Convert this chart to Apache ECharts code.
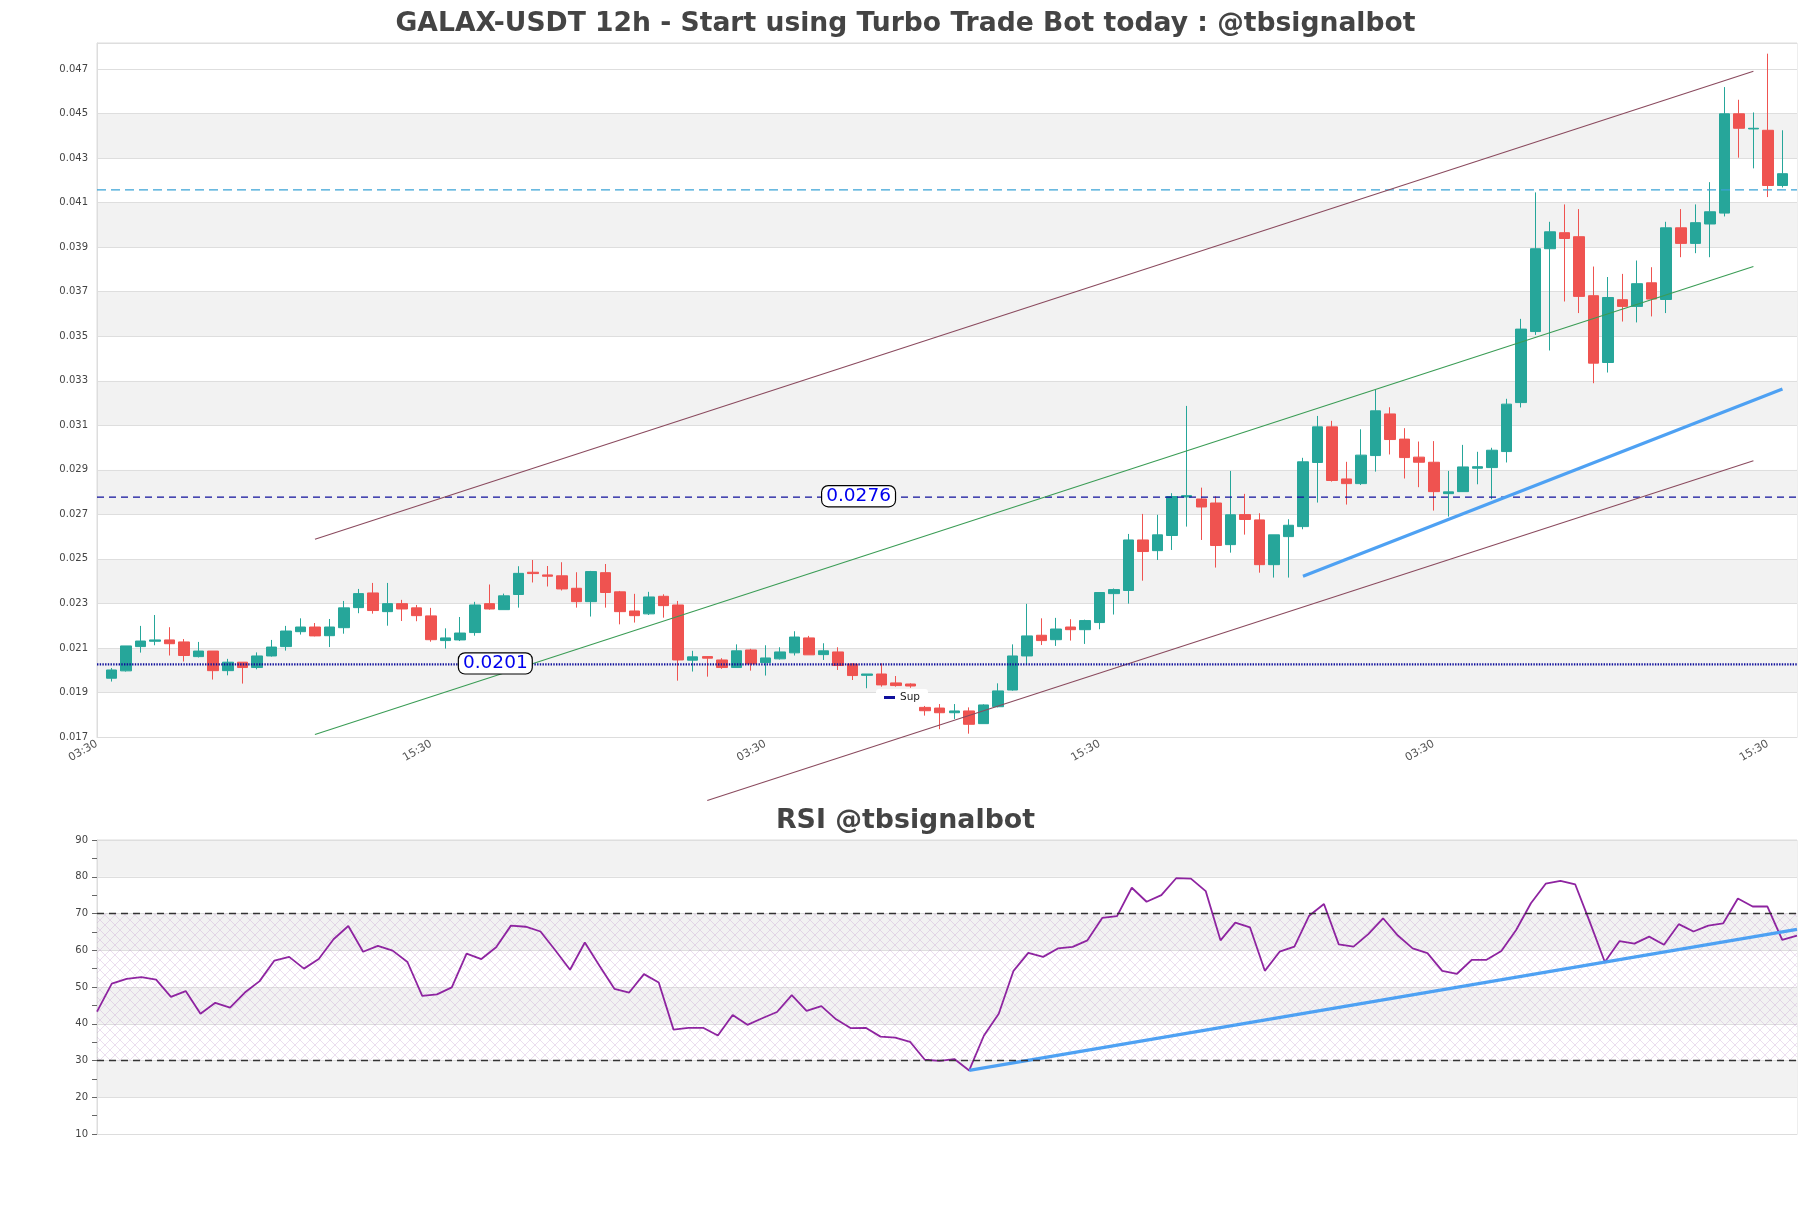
<!DOCTYPE html>
<html><head><meta charset="utf-8">
<script src="https://cdn.jsdelivr.net/npm/echarts@6/dist/echarts.min.js"></script>
<style>html,body{margin:0;padding:0;background:#fff}#c{width:1811px;height:1208px}</style>
</head><body><div id="c"></div>
<script>
// ---- DATA ----
const opens = [0.01964,0.01997,0.02106,0.02130,0.02136,0.02127,0.02061,0.02086,0.01998,0.02036,0.02012,0.02064,0.02106,0.02173,0.02194,0.02155,0.02191,0.02281,0.02347,0.02263,0.02299,0.02280,0.02244,0.02133,0.02136,0.02169,0.02299,0.02272,0.02340,0.02440,0.02428,0.02424,0.02368,0.02308,0.02438,0.02352,0.02266,0.02253,0.02332,0.02293,0.02045,0.02061,0.02046,0.02012,0.02091,0.02034,0.02051,0.02078,0.02145,0.02070,0.02082,0.02028,0.01977,0.01983,0.01943,0.01938,0.01833,0.01830,0.01809,0.01817,0.01760,0.01836,0.01911,0.02064,0.02157,0.02137,0.02194,0.02182,0.02214,0.02344,0.02358,0.02585,0.02537,0.02605,0.02778,0.02769,0.02751,0.02564,0.02699,0.02675,0.02474,0.02600,0.02645,0.02933,0.03093,0.02859,0.02838,0.02964,0.03151,0.03038,0.02957,0.02934,0.02793,0.02802,0.02907,0.02910,0.02982,0.03202,0.03521,0.03893,0.03965,0.03947,0.03682,0.03382,0.03664,0.03634,0.03740,0.03665,0.03987,0.03917,0.04004,0.04053,0.04499,0.04431,0.04425,0.04177];
const highs = [0.02010,0.02109,0.02199,0.02248,0.02193,0.02140,0.02127,0.02086,0.02051,0.02036,0.02080,0.02136,0.02199,0.02233,0.02212,0.02230,0.02311,0.02365,0.02392,0.02392,0.02316,0.02293,0.02280,0.02188,0.02239,0.02307,0.02385,0.02344,0.02467,0.02495,0.02468,0.02485,0.02440,0.02446,0.02477,0.02356,0.02343,0.02352,0.02341,0.02311,0.02087,0.02062,0.02054,0.02116,0.02096,0.02112,0.02103,0.02175,0.02154,0.02121,0.02103,0.02031,0.01983,0.02031,0.01974,0.01941,0.01846,0.01848,0.01848,0.01833,0.01847,0.01941,0.02116,0.02298,0.02233,0.02235,0.02229,0.02227,0.02349,0.02367,0.02612,0.02702,0.02698,0.02795,0.03187,0.02820,0.02781,0.02895,0.02792,0.02705,0.02608,0.02678,0.02954,0.03142,0.03120,0.02936,0.03082,0.03259,0.03181,0.03087,0.03027,0.03029,0.02895,0.03012,0.02981,0.02999,0.03219,0.03578,0.04146,0.04014,0.04092,0.04071,0.03813,0.03766,0.03780,0.03840,0.03810,0.04014,0.04071,0.04092,0.04192,0.04619,0.04562,0.04505,0.04769,0.04425];
const lows = [0.01949,0.01994,0.02079,0.02112,0.02066,0.02039,0.02057,0.01958,0.01977,0.01940,0.02004,0.02061,0.02088,0.02160,0.02152,0.02104,0.02164,0.02256,0.02254,0.02200,0.02221,0.02220,0.02128,0.02097,0.02131,0.02155,0.02272,0.02272,0.02281,0.02394,0.02376,0.02358,0.02281,0.02241,0.02281,0.02206,0.02214,0.02248,0.02236,0.01953,0.01994,0.01971,0.02006,0.02012,0.01998,0.01976,0.02048,0.02066,0.02069,0.02046,0.02001,0.01956,0.01919,0.01926,0.01926,0.01921,0.01796,0.01735,0.01781,0.01715,0.01760,0.01833,0.01908,0.02024,0.02113,0.02109,0.02133,0.02118,0.02184,0.02250,0.02299,0.02402,0.02495,0.02540,0.02645,0.02585,0.02461,0.02528,0.02609,0.02438,0.02416,0.02416,0.02633,0.02753,0.02847,0.02744,0.02832,0.02892,0.02969,0.02861,0.02822,0.02717,0.02690,0.02801,0.02835,0.02768,0.02933,0.03180,0.03506,0.03436,0.03656,0.03604,0.03289,0.03337,0.03566,0.03562,0.03589,0.03604,0.03855,0.03873,0.03855,0.04038,0.04302,0.04254,0.04125,0.04168];
const closes = [0.02001,0.02109,0.02131,0.02136,0.02119,0.02066,0.02086,0.01998,0.02036,0.02012,0.02064,0.02104,0.02176,0.02194,0.02154,0.02194,0.02280,0.02344,0.02268,0.02299,0.02275,0.02245,0.02137,0.02145,0.02167,0.02293,0.02275,0.02334,0.02435,0.02434,0.02422,0.02365,0.02308,0.02443,0.02349,0.02263,0.02245,0.02329,0.02290,0.02046,0.02060,0.02054,0.02012,0.02087,0.02028,0.02055,0.02082,0.02149,0.02069,0.02087,0.02021,0.01976,0.01983,0.01934,0.01931,0.01929,0.01818,0.01809,0.01817,0.01757,0.01844,0.01907,0.02064,0.02154,0.02133,0.02185,0.02182,0.02223,0.02349,0.02362,0.02585,0.02533,0.02608,0.02780,0.02784,0.02733,0.02560,0.02698,0.02677,0.02474,0.02608,0.02651,0.02936,0.03093,0.02852,0.02838,0.02966,0.03165,0.03036,0.02955,0.02934,0.02802,0.02801,0.02913,0.02914,0.02988,0.03195,0.03532,0.03893,0.03969,0.03939,0.03679,0.03379,0.03674,0.03634,0.03736,0.03667,0.03987,0.03917,0.04010,0.04059,0.04499,0.04434,0.04434,0.04177,0.04230];
const rsiValues = [43.3,50.9,52.2,52.7,52.0,47.3,48.9,42.7,45.7,44.4,48.5,51.6,57.2,58.2,55.0,57.6,63.0,66.6,59.6,61.2,59.9,56.8,47.6,48.0,49.9,59.1,57.6,60.8,66.7,66.4,65.1,60.0,54.7,62.1,55.7,49.5,48.5,53.5,51.2,38.4,38.9,38.9,36.8,42.4,39.7,41.5,43.2,47.8,43.5,44.8,41.2,38.8,38.9,36.5,36.2,35.1,30.2,29.9,30.4,27.3,36.8,42.7,54.4,59.3,58.2,60.5,60.9,62.7,68.8,69.3,77.0,73.2,75.0,79.6,79.5,76.1,62.7,67.5,66.2,54.4,59.6,61.0,69.4,72.6,61.6,61.0,64.4,68.7,64.0,60.5,59.2,54.4,53.6,57.4,57.4,59.8,65.5,72.8,78.1,78.9,77.9,67.5,56.8,62.5,61.8,63.7,61.5,67.1,65.1,66.7,67.3,74.1,71.9,71.9,62.8,64.0];
const timeLabels = ['03:30', '15:30'];
const priceMin = 0.017, priceMax = 0.04817, priceStep = 0.002;
const rsiMin = 10, rsiMax = 90, rsiStep = 10;
const supLevel = 0.02026, resLevel = 0.02777, topLevel = 0.04157;
const supLabel = '0.0201', resLabel = '0.0276';
const supLabelAt = 27, resLabelAt = 52;
const channelUpper = [[15, 0.02588], [114, 0.04690]];
const channelMid = [[15, 0.01711], [114, 0.03813]];
const channelLower = [[42, 0.01415], [114, 0.02941]];
const priceTrend = [[83, 0.02422], [116, 0.03263]];
const rsiTrend = [[59, 27.3], [115, 65.7]];
const rsiZone = [30, 70];

// ---- BUILD ----
const nPad = opens.length + 2;             // one empty slot on each side
const categories = Array.from({length: nPad}, (_, i) => timeLabels[i % 2]);
const rsiCats = rsiValues.map((_, i) => String(i));
const candleRows = opens.map((o, i) => [i + 1, o, closes[i], lows[i], highs[i]]);
const fullSpan = v => [[0, v], [nPad - 1, v]];

const hatch = document.createElement('canvas');
hatch.width = 10; hatch.height = 10;
(function(){const g = hatch.getContext('2d');
  g.strokeStyle = 'rgba(190,150,205,0.45)'; g.lineWidth = 0.7;
  g.beginPath(); g.moveTo(0,0); g.lineTo(10,10); g.moveTo(10,0); g.lineTo(0,10); g.stroke();})();

const GRAY = '#f2f2f2', WHITE = '#ffffff';
const mainBands = Array.from({length: 16}, (_, i) => (i % 2 === 1 && i < 15) ? GRAY : WHITE);
const FONT = 'DejaVu Sans';

const chart = echarts.init(document.getElementById('c'), null, {renderer: 'canvas'});
const line = (name, data, lineStyle, z) => ({
  name, type: 'line', data, xAxisIndex: 0, yAxisIndex: 0, symbol: 'none', clip: false, silent: true,
  lineStyle, color: lineStyle.color, z: z || 3
});
chart.setOption({
  animation: false,
  backgroundColor: '#fff',
  textStyle: {fontFamily: FONT},
  title: [
    {text: 'GALAX-USDT 12h - Start using Turbo Trade Bot today : @tbsignalbot', left: 'center', top: 6,
     textStyle: {fontSize: 26.6, fontWeight: 'bold', color: '#444', fontFamily: FONT}},
    {text: 'RSI @tbsignalbot', left: 'center', top: 803,
     textStyle: {fontSize: 26.8, fontWeight: 'bold', color: '#444', fontFamily: FONT}}
  ],
  legend: {data: ['Sup'], left: 876, top: 689, icon: 'rect', itemWidth: 11, itemHeight: 3,
    backgroundColor: 'rgba(255,255,255,0.95)', borderRadius: 3, padding: [3, 8],
    textStyle: {fontSize: 10.5, color: '#222', fontFamily: FONT}, z: 10},
  grid: [
    {left: 97, top: 43, width: 1700, height: 694, show: true, borderColor: '#dddddd', borderWidth: 1, backgroundColor: 'transparent'},
    {left: 97, top: 840, width: 1700, height: 294, show: true, borderColor: '#dddddd', borderWidth: 1, backgroundColor: 'transparent'}
  ],
  xAxis: [
    {type: 'category', gridIndex: 0, data: categories, boundaryGap: false,
     axisLine: {lineStyle: {color: '#dddddd'}}, axisTick: {show: false}, splitLine: {show: false},
     axisLabel: {interval: 22, rotate: 30, fontSize: 11, color: '#555', margin: 6, fontFamily: FONT}},
    {type: 'category', gridIndex: 1, data: rsiCats, boundaryGap: false,
     axisLine: {lineStyle: {color: '#dddddd'}}, axisTick: {show: false}, axisLabel: {show: false}, splitLine: {show: false}}
  ],
  yAxis: [
    {type: 'value', gridIndex: 0, min: priceMin, max: priceMax, interval: priceStep, scale: true,
     axisLine: {show: true, lineStyle: {color: '#dddddd'}}, axisTick: {show: false},
     axisLabel: {showMaxLabel: false, fontSize: 10, color: '#444', margin: 9, fontFamily: FONT, formatter: v => v.toFixed(3)},
     splitLine: {lineStyle: {color: '#dedede', width: 1}},
     splitArea: {show: true, areaStyle: {color: mainBands}}},
    {type: 'value', gridIndex: 1, min: rsiMin, max: rsiMax, interval: rsiStep,
     axisLine: {show: true, lineStyle: {color: '#dddddd'}},
     axisTick: {show: true, length: 5, lineStyle: {color: '#666'}},
     minorTick: {show: true, splitNumber: 2, length: 5, lineStyle: {color: '#666'}},
     axisLabel: {fontSize: 10, color: '#444', margin: 9, fontFamily: FONT},
     splitLine: {lineStyle: {color: '#dedede', width: 1}},
     splitArea: {show: true, areaStyle: {color: [WHITE, GRAY]}}}
  ],
  series: [
    {name: 'price', type: 'candlestick', xAxisIndex: 0, yAxisIndex: 0, data: candleRows,
     encode: {x: 0, y: [1, 2, 3, 4]}, barWidth: 11, z: 2,
     itemStyle: {color: '#26a69a', color0: '#ef5350', borderColor: '#26a69a', borderColor0: '#ef5350', borderWidth: 1}},
    line('res', fullSpan(resLevel), {color: '#10109c', type: [7, 5], width: 1.3}),
    line('top', fullSpan(topLevel), {color: '#3aa3d6', type: [9, 5], width: 1.3}),
    line('upper', channelUpper, {color: '#8a4a5e', width: 1.1}),
    line('mid', channelMid, {color: '#3a9c55', width: 1.1}),
    line('lower', channelLower, {color: '#8a4a5e', width: 1.1}),
    line('ptrend', priceTrend, {color: '#4ea1f3', width: 3.2}, 4),
    line('Sup', fullSpan(supLevel), {color: '#10109c', width: 2.4, type: [1.4, 1.3]}),
    {name: 'labels', type: 'scatter', xAxisIndex: 0, yAxisIndex: 0, silent: true, z: 6,
     symbolSize: 0, itemStyle: {opacity: 1},
     data: [[supLabelAt, supLevel, supLabel], [resLabelAt, resLevel, resLabel]],
     label: {show: true, position: 'inside', offset: [6, -1], formatter: p => p.data[2],
       color: '#0000ee', opacity: 1, fontSize: 18.5, fontFamily: FONT, backgroundColor: '#fff',
       textBorderWidth: 0, textBorderColor: 'transparent', textShadowBlur: 0,
       borderColor: '#000', borderWidth: 1.2, borderRadius: 6, padding: [1, 4, 0, 4]}},
    {name: 'rsi', type: 'line', xAxisIndex: 1, yAxisIndex: 1, data: rsiValues, symbol: 'none', silent: true, z: 3,
     lineStyle: {color: '#8e24a0', width: 1.8},
     markArea: {silent: true, itemStyle: {color: {image: hatch, repeat: 'repeat'}},
       data: [[{yAxis: rsiZone[0]}, {yAxis: rsiZone[1]}]]},
     markLine: {silent: true, symbol: 'none', label: {show: false},
       lineStyle: {color: '#333', type: [7, 5], width: 1.3},
       data: [{yAxis: rsiZone[0]}, {yAxis: rsiZone[1]}]}},
    {name: 'rtrend', type: 'line', xAxisIndex: 1, yAxisIndex: 1, data: rsiTrend, symbol: 'none', silent: true, z: 4,
     lineStyle: {color: '#4ea1f3', width: 3.2}}
  ]
});
</script></body></html>
